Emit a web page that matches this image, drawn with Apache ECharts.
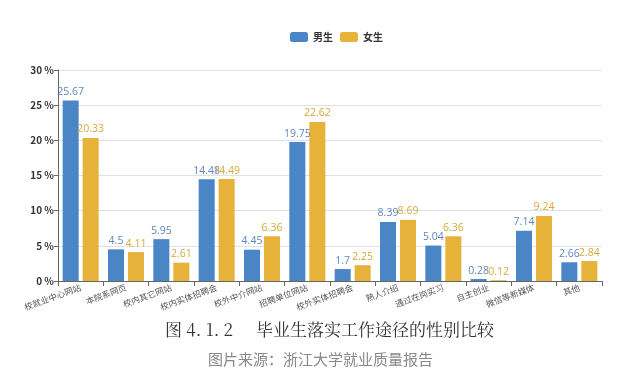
<!DOCTYPE html>
<html><head><meta charset="utf-8">
<script src="https://cdn.jsdelivr.net/npm/echarts@6/dist/echarts.min.js"></script>
<style>html,body{margin:0;padding:0;background:#fff}#c{width:636px;height:371px}</style>
</head><body><div id="c"></div>
<script>
var categories = ['校就业中心网站','本院系网页','校内其它网站','校内实体招聘会','校外中介网站','招聘单位网站','校外实体招聘会','熟人介绍','通过在岗实习','自主创业','微信等新媒体','其他'];
var male = [25.67,4.5,5.95,14.48,4.45,19.75,1.7,8.39,5.04,0.28,7.14,2.66];
var female = [20.33,4.11,2.61,14.49,6.36,22.62,2.25,8.69,6.36,0.12,9.24,2.84];
var yTicks = [0,5,10,15,20,25,30];
var chart = echarts.init(document.getElementById('c'));
var font = '"Noto Sans CJK SC", "Noto Sans", sans-serif';
var serif = '"Noto Serif CJK SC","DejaVu Serif","Liberation Serif", serif';
chart.setOption({
  animation:false,
  textStyle:{fontFamily:font},
  legend:{top:27,left:285,itemWidth:18,itemHeight:10,itemGap:7,
    textStyle:{fontSize:10,color:'#333',fontWeight:'bold',fontFamily:font},
    data:['男生','女生']},
  grid:{left:58,right:34,top:70,bottom:90},
  xAxis:{type:'category',data:categories,
    axisLine:{lineStyle:{color:'#666'}},
    axisTick:{show:true,lineStyle:{color:'#666'}},
    axisLabel:{rotate:20,fontSize:8.5,color:'#555',interval:0,margin:6}},
  yAxis:{type:'value',min:0,max:30,interval:5,
    axisLine:{show:true,lineStyle:{color:'#666'}},
    axisTick:{show:true,length:4,lineStyle:{color:'#666'}},
    splitLine:{lineStyle:{color:'#dde2ea'}},
    axisLabel:{formatter:'{value} %',fontSize:10,color:'#333',fontWeight:'bold',margin:4}},
  series:[
    {name:'男生',type:'bar',data:male,barWidth:16,barGap:'25%',
     itemStyle:{color:'#4a86c6'},
     label:{show:true,position:'top',color:'#6186b8',fontSize:10.5,distance:3,fontFamily:'"Open Sans", sans-serif'}},
    {name:'女生',type:'bar',data:female,barWidth:16,
     itemStyle:{color:'#e6b23a'},
     label:{show:true,position:'top',color:'#d6aa3c',fontSize:10.5,distance:3,fontFamily:'"Open Sans", sans-serif'}}
  ],
  graphic:[
    {type:'text',left:165,top:321,style:{text:'图 4. 1. 2',fontSize:17,fill:'#333',fontFamily:serif}},
    {type:'text',left:256,top:321,style:{text:'毕业生落实工作途径的性别比较',fontSize:17,fill:'#333',fontFamily:serif}},
    {type:'text',left:208,top:352,style:{text:'图片来源：浙江大学就业质量报告',fontSize:15,fill:'#888',fontFamily:font}}
  ]
});
</script></body></html>
